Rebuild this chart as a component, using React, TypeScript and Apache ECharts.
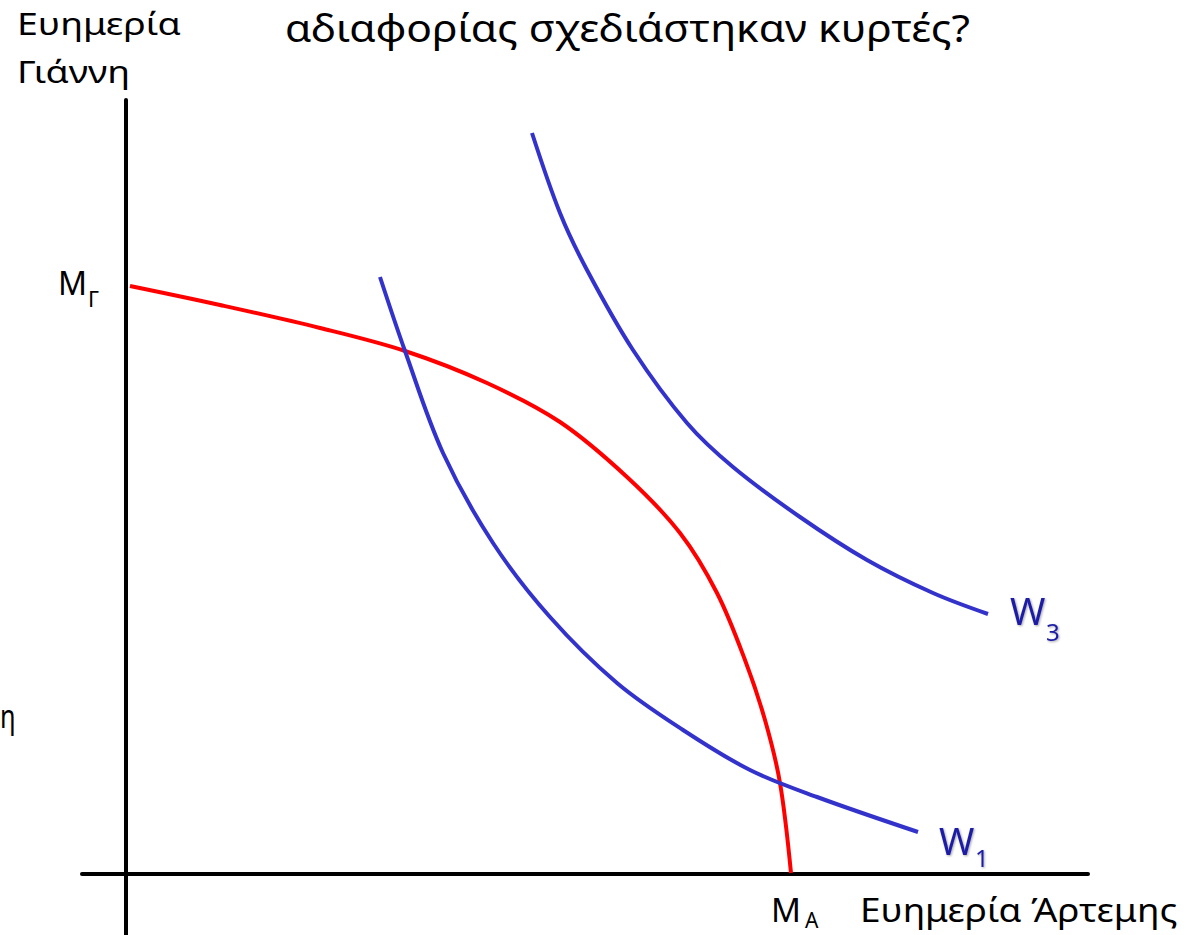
import React, { useEffect, useRef } from "react";
import * as echarts from "echarts";

// Utility-possibility frontier (red) and indifference curves W1, W3 (blue)
const frontierX = [0.4, 9.4, 19.4, 27.9, 36.1, 43.4, 50.1, 55.4, 59.1, 61.9, 63.9, 65.4, 66.5];
const frontierY = [58.8, 56.9, 54.6, 52.3, 49.1, 45.2, 39.7, 34.1, 28.1, 21.4, 15.4, 9.1, 0.1];

const w1X = [25.4, 27.9, 31.7, 36.7, 42.4, 49.1, 55.7, 62.4, 69.1, 79.2];
const w1Y = [59.7, 52.3, 42.1, 33.1, 25.7, 19.1, 14.4, 10.4, 7.7, 4.2];

const w3X = [40.6, 43.4, 46.1, 50.7, 56.1, 60.7, 67.4, 74.1, 80.7, 86.2];
const w3Y = [74.1, 66.1, 60.4, 52.4, 45.1, 40.7, 35.7, 31.4, 28.1, 26.0];

const titleText = "αδιαφορίας σχεδιάστηκαν κυρτές?";
const yLabelLines = ["Ευημερία", "Γιάννη"];
const xLabelText = "Ευημερία Άρτεμης";

const zip = (xs: number[], ys: number[]) => xs.map((x, i) => [x, ys[i]]);

const FONT = "'Noto Sans', sans-serif";

export default function App() {
  const ref = useRef<HTMLDivElement>(null);
  useEffect(() => {
    if (!ref.current) return;
    const chart = echarts.init(ref.current, undefined, { renderer: "svg" });
    const axisLine = { show: true, onZero: true, lineStyle: { color: "#000", width: 4 } };
    // x = left edge, base = baseline y
    const txt = (text: string, x: number, base: number, size: number, sx = 1, extra: any = {}) => ({
      type: "text",
      x,
      y: base - 0.888 * size,
      scaleX: sx,
      style: {
        text,
        fontSize: size,
        fontFamily: FONT,
        fill: "#000",
        textAlign: "left",
        verticalAlign: "top",
        ...extra,
      },
    });
    const wStyle = {
      fill: "#1c1ca6",
      textShadowColor: "rgba(0,0,0,0.35)",
      textShadowBlur: 2,
      textShadowOffsetX: 1,
      textShadowOffsetY: 1,
    };
    const curve = (name: string, xs: number[], ys: number[], color: string, z: number) => ({
      type: "line",
      name,
      data: zip(xs, ys),
      smooth: 0.34,
      showSymbol: false,
      lineStyle: { color, width: 4 },
      z,
    });
    chart.setOption({
      animation: false,
      backgroundColor: "#fff",
      grid: { left: 82, right: 104, top: 100, bottom: 0, containLabel: false },
      xAxis: {
        type: "value",
        min: -4.4,
        max: 96.2,
        axisLine,
        axisTick: { show: false },
        axisLabel: { show: false },
        splitLine: { show: false },
      },
      yAxis: {
        type: "value",
        min: -6.1,
        max: 77.4,
        axisLine,
        axisTick: { show: false },
        axisLabel: { show: false },
        splitLine: { show: false },
      },
      series: [
        curve("frontier", frontierX, frontierY, "#ff0000", 3),
        curve("W1", w1X, w1Y, "#3333cc", 4),
        curve("W3", w3X, w3Y, "#3333cc", 4),
      ],
      graphic: [
        txt(yLabelLines[0], 17, 35, 30, 1.25),
        txt(yLabelLines[1], 17, 83, 30, 1.25),
        txt(titleText, 285, 42, 38, 1.12),
        txt("Μ", 58, 295, 32),
        txt("Γ", 88, 307, 22),
        txt("Μ", 771, 922, 33),
        txt("Α", 805, 928, 21),
        txt(xLabelText, 860, 922, 33, 1.12),
        txt("W", 1010, 625, 38, 1, wStyle),
        txt("3", 1046, 641, 24, 1, wStyle),
        txt("W", 939, 855, 38, 1, wStyle),
        txt("1", 975, 867, 24, 1, wStyle),
        txt("η", 0, 728, 32, 0.8),
      ],
    });
    return () => chart.dispose();
  }, []);
  return (
    <div
      ref={ref}
      style={{ position: "absolute", left: 0, top: 0, width: 1192, height: 935 }}
    />
  );
}
